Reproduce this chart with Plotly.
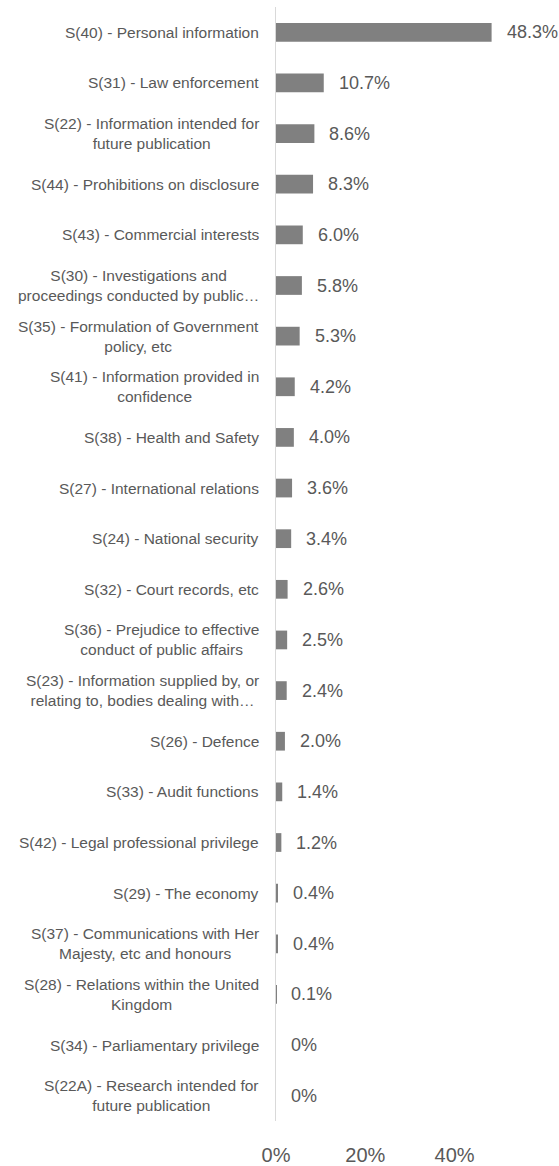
"""Share of FOI exemptions applied, by section (horizontal bar chart)."""

import plotly.graph_objects as go

# categories, top to bottom as shown
sections = [
    "S(40) - Personal information",
    "S(31) - Law enforcement",
    "S(22) - Information intended for<br>future publication",
    "S(44) - Prohibitions on disclosure",
    "S(43) - Commercial interests",
    "S(30) - Investigations and<br>proceedings conducted by public…",
    "S(35) - Formulation of Government<br>policy, etc",
    "S(41) - Information provided in<br>confidence",
    "S(38) - Health and Safety",
    "S(27) - International relations",
    "S(24) - National security",
    "S(32) - Court records, etc",
    "S(36) - Prejudice to effective<br>conduct of public affairs",
    "S(23) - Information supplied by, or<br>relating to, bodies dealing with…",
    "S(26) - Defence",
    "S(33) - Audit functions",
    "S(42) - Legal professional privilege",
    "S(29) - The economy",
    "S(37) - Communications with Her<br>Majesty, etc and honours",
    "S(28) - Relations within the United<br>Kingdom",
    "S(34) - Parliamentary privilege",
    "S(22A) - Research intended for<br>future publication",
]

# share of exemptions (fraction)
shares = [
    0.483, 0.107, 0.086, 0.083, 0.060, 0.058, 0.053, 0.042, 0.040, 0.036, 0.034,
    0.026, 0.025, 0.024, 0.020, 0.014, 0.012, 0.004, 0.004, 0.001, 0.0, 0.0,
]

tick_vals = [0, 0.2, 0.4]
tick_text = ["0%", "20%", "40%"]

GREY_TEXT = "#595959"
FONT = "Liberation Sans, Arial, sans-serif"

labels = [f"{v * 100:.1f}%" if v > 0 else "0%" for v in shares]
ids = [f"c{i}" for i in range(len(sections))]

fig = go.Figure()
fig.add_trace(
    go.Bar(
        x=shares,
        y=ids,
        orientation="h",
        marker=dict(color="#808080", line=dict(width=0)),
        width=0.37,
        hoverinfo="skip",
    )
)

# value labels to the right of each bar
for cid, v, lab in zip(ids, shares, labels):
    fig.add_annotation(
        x=v, y=cid, xref="x", yref="y",
        text=lab, showarrow=False,
        xanchor="left", xshift=13,
        font=dict(family=FONT, size=18, color=GREY_TEXT),
    )

# category labels; wrapped lines are centred on each other like Excel does
for cid, name in zip(ids, sections):
    fig.add_annotation(
        x=0, y=cid, xref="x", yref="y",
        text=name, showarrow=False,
        xanchor="right", xshift=-15, align="center",
        font=dict(family=FONT, size=15.5, color=GREY_TEXT),
    )

fig.update_layout(
    width=559,
    height=1166,
    margin=dict(l=276, r=0, t=7, b=36),
    paper_bgcolor="white",
    plot_bgcolor="white",
    showlegend=False,
    font=dict(family=FONT, color=GREY_TEXT),
    xaxis=dict(
        range=[0, 0.634],
        tickvals=tick_vals,
        ticktext=tick_text,
        showgrid=False,
        zeroline=False,
        showline=False,
        ticks="outside",
        ticklen=16,
        tickcolor="rgba(0,0,0,0)",
        tickfont=dict(family=FONT, size=20, color=GREY_TEXT),
    ),
    yaxis=dict(
        categoryorder="array",
        categoryarray=ids,
        autorange="reversed",
        showticklabels=False,
        showgrid=False,
        zeroline=False,
        showline=True,
        linecolor="#d9d9d9",
        linewidth=1,
        ticks="",
    ),
)

# drop the page's default body margin so the figure sits at the window's corner
fig.write_html(
    "out.html",
    config={"displayModeBar": False},
    post_script="document.body.style.margin='0';document.body.style.overflow='hidden';",
)
